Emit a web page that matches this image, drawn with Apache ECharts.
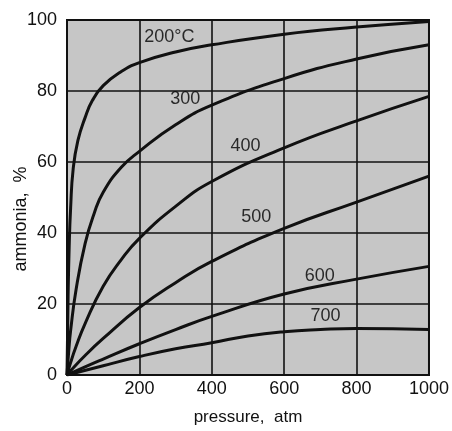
<!DOCTYPE html>
<html>
<head>
<meta charset="utf-8">
<script src="https://cdn.jsdelivr.net/npm/echarts@6/dist/echarts.min.js"></script>
<style>html,body{margin:0;padding:0;background:#fff;}#c{width:452px;height:431px;}</style>
</head>
<body>
<div id="c"></div>
<script>
// pressure (atm) and ammonia (%) for each temperature curve
var p200 = [0, 3, 6, 10, 17, 30, 50, 70, 100, 150, 200, 300, 400, 600, 800, 1000];
var v200 = [0, 22, 36, 47, 58, 66, 72.5, 77.3, 81.5, 85.5, 88, 91, 93, 96, 98, 99.6];
var p300 = [0, 5, 10, 25, 50, 75, 100, 150, 200, 300, 400, 600, 800, 1000];
var v300 = [0, 7, 12.5, 24, 37, 45.5, 51.5, 58.5, 63, 70.5, 76, 83.5, 89, 93];
var p400 = [0, 10, 25, 50, 100, 150, 200, 300, 400, 600, 800, 1000];
var v400 = [0, 3.5, 8, 14.5, 25, 32.5, 38.5, 47.5, 54.5, 64, 71.6, 78.5];
var p500 = [0, 10, 50, 100, 200, 300, 400, 600, 800, 1000];
var v500 = [0, 1.2, 5.5, 10.3, 19, 26, 32, 41.3, 48.7, 56];
var p600 = [0, 50, 100, 200, 300, 400, 600, 800, 1000];
var v600 = [0, 2.3, 4.5, 8.8, 12.8, 16.5, 22.8, 27, 30.6];
var p700 = [0, 100, 200, 300, 400, 500, 600, 700, 800, 1000];
var v700 = [0, 2.6, 5.2, 7.4, 9.1, 11, 12.2, 12.8, 13.1, 12.8];

// curve labels (text and position in data coordinates)
var labelText = ['200°C', '300', '400', '500', '600', '700'];
var labelX = [283, 327, 493, 523, 698, 714];
var labelY = [95.2, 77.7, 64.5, 44.4, 28, 16.5];

// axis ticks
var xTicks = [0, 200, 400, 600, 800, 1000];
var yTicks = [0, 20, 40, 60, 80, 100];

var FONT = '"Liberation Sans", Arial, sans-serif';

function pairs(xs, ys) { return xs.map(function (x, i) { return [x, ys[i]]; }); }
function curve(xs, ys) {
  return {
    type: 'line', data: pairs(xs, ys), showSymbol: false, symbol: 'none',
    smooth: 0.5,
    lineStyle: { color: '#111', width: 3 }, silent: true, z: 5
  };
}

var chart = echarts.init(document.getElementById('c'), null, { renderer: 'canvas' });
chart.setOption({
  animation: false,
  backgroundColor: '#fff',
  grid: { left: 67, right: 18, top: 20, bottom: 48, show: true, backgroundColor: '#c6c6c6', borderColor: '#111', borderWidth: 2 },
  xAxis: {
    type: 'value', min: xTicks[0], max: xTicks[xTicks.length - 1], interval: xTicks[1] - xTicks[0],
    name: 'pressure,  atm', nameLocation: 'middle', nameGap: 34,
    nameTextStyle: { fontFamily: FONT, fontSize: 17, color: '#111' },
    axisLine: { show: true, lineStyle: { color: '#111', width: 2 } },
    axisTick: { show: false },
    axisLabel: { fontFamily: FONT, fontSize: 18, color: '#111', margin: 5, formatter: function (v) { return String(v); } },
    splitLine: { show: true, lineStyle: { color: '#111', width: 1.6 } }
  },
  yAxis: {
    type: 'value', min: yTicks[0], max: yTicks[yTicks.length - 1], interval: yTicks[1] - yTicks[0],
    axisLine: { show: true, lineStyle: { color: '#111', width: 2 } },
    axisTick: { show: false },
    axisLabel: { fontFamily: FONT, fontSize: 18, color: '#111', margin: 10 },
    splitLine: { show: true, lineStyle: { color: '#111', width: 1.6 } }
  },
  graphic: [{
    type: 'text', x: 21, y: 219, rotation: Math.PI / 2,
    style: { text: 'ammonia,  %', fontFamily: FONT, fontSize: 18, fill: '#111', align: 'center', verticalAlign: 'middle' }
  }],
  series: [
    curve(p200, v200), curve(p300, v300), curve(p400, v400),
    curve(p500, v500), curve(p600, v600), curve(p700, v700),
    {
      type: 'scatter', symbolSize: 0, silent: true, z: 6,
      data: labelText.map(function (t, i) { return { name: t, value: [labelX[i], labelY[i]] }; }),
      label: { show: true, position: 'inside', formatter: function (p) { return p.name; },
        fontFamily: FONT, fontSize: 18, color: '#000' }
    }
  ]
});
</script>
</body>
</html>
